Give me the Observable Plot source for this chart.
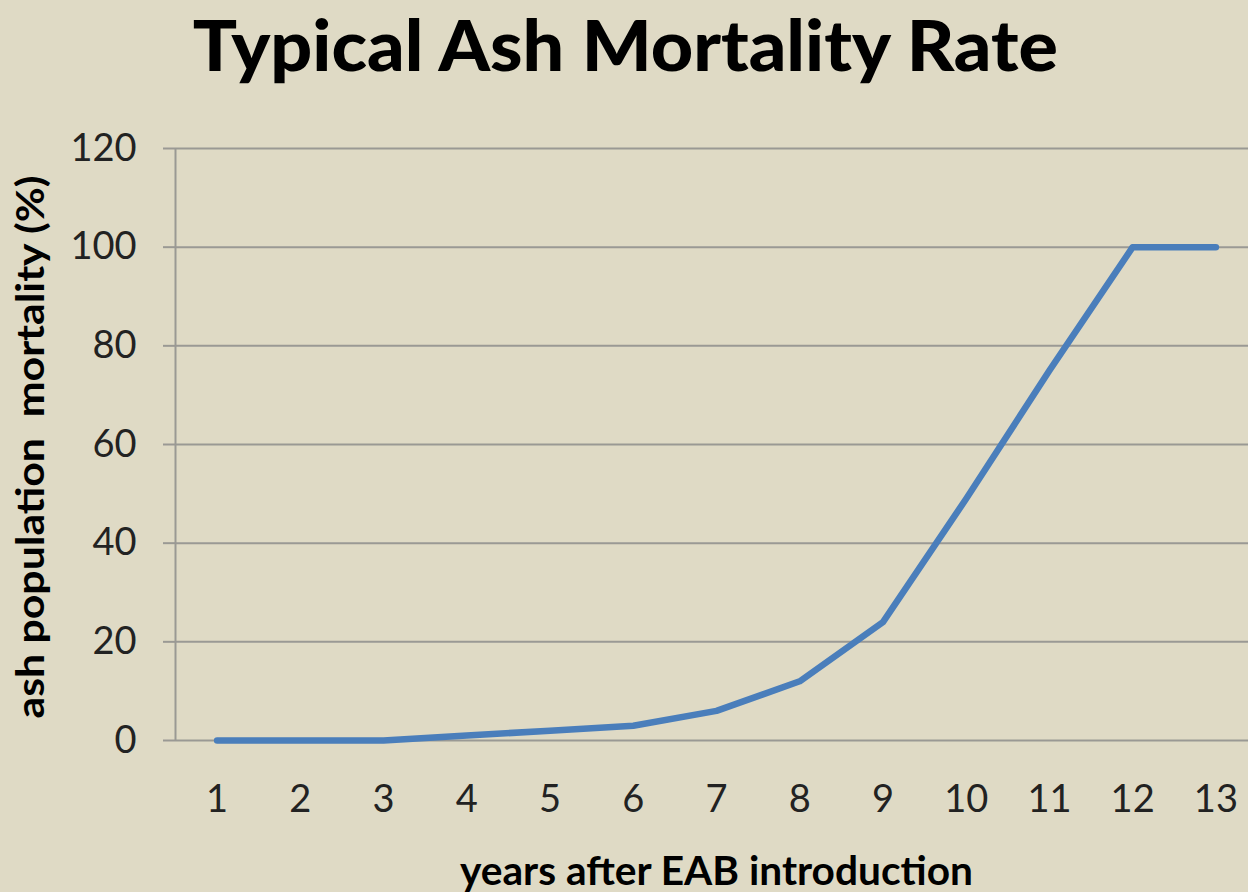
<!DOCTYPE html>
<html>
<head>
<meta charset="utf-8">
<script src="https://cdn.jsdelivr.net/npm/d3@7"></script>
<script src="https://cdn.jsdelivr.net/npm/@observablehq/plot@0.6"></script>
<style>
  html, body { margin: 0; padding: 0; background: #dfdac5; overflow: hidden; }
  #page { position: relative; width: 1248px; height: 892px; overflow: hidden; background: #dfdac5; font-family: Lato, "Open Sans", sans-serif; }
  #titlebox { position: relative; width: 1248px; height: 100px; }
  #title { position: absolute; left: 0; top: 0; white-space: pre; font-family: Lato, sans-serif; font-weight: 900; font-size: 71px; color: #000; line-height: 1.2; transform-origin: center center; }
  #chart svg { display: block; }
</style>
</head>
<body>
<div id="page">
  <div id="titlebox"><div id="title"><span id="titletext">Typical Ash Mortality Rate</span></div></div>
  <div id="chart"></div>
</div>
<script>
// ---- data ----
const titleText = "Typical Ash Mortality Rate";
const xLabel = "years after EAB introduction";
const yLabel = "ash population  mortality (%)";
const years = [1, 2, 3, 4, 5, 6, 7, 8, 9, 10, 11, 12, 13];
const mortality = [0, 0, 0, 1, 2, 3, 6, 12, 24, 49, 75, 100, 100];
const yTicks = [0, 20, 40, 60, 80, 100, 120];

// ---- styles ----
const gridColor = "#9a9994";
const lineColor = "#4a7ebb";
const textColor = "#222222";

const table = years.map((y, i) => ({year: y, value: mortality[i]}));

const chart = Plot.plot({
  width: 1248,
  height: 792,
  marginTop: 48,
  marginBottom: 152,
  marginLeft: 175,
  marginRight: -9,
  style: {background: "transparent", fontFamily: "Lato, 'Open Sans', sans-serif", overflow: "visible"},
  x: {type: "linear", domain: [0.5, 13.5]},
  y: {type: "linear", domain: [0, 120]},
  marks: [
    Plot.gridY(yTicks, {stroke: gridColor, strokeOpacity: 1, strokeWidth: 2}),
    Plot.ruleX([0.5], {y1: 0, y2: 120, stroke: gridColor, strokeWidth: 2}),
    Plot.axisY(yTicks, {tickSize: 12, tickPadding: 27, stroke: gridColor, strokeWidth: 2, fill: textColor, fontSize: 38, label: null}),
    Plot.axisX(years, {tickSize: 0, tickPadding: 45, fill: textColor, fontSize: 38, label: null}),
    Plot.line(table, {x: "year", y: "value", stroke: lineColor, strokeWidth: 6.5, strokeLinejoin: "round", strokeLinecap: "round"}),
    Plot.text([yLabel], {frameAnchor: "left", textAnchor: "middle", rotate: -90, lineAnchor: "bottom", dx: -132, dy: 2.5, fontSize: 39, fontWeight: "bold", fill: "#000", className: "ylab"}),
    Plot.text([xLabel], {frameAnchor: "bottom", textAnchor: "middle", lineAnchor: "bottom", dy: 144, fontSize: 41, fontWeight: "bold", fill: "#000", className: "xlab"})
  ]
});
document.getElementById("chart").appendChild(chart);

// fit label widths (Calibri-like narrow proportions)
function fitText(sel, target) {
  const t = chart.querySelector(sel);
  if (!t) return;
  const w = t.getComputedTextLength();
  if (w > 0) { t.setAttribute("textLength", target); t.setAttribute("lengthAdjust", "spacingAndGlyphs"); }
}
fitText(".ylab text", 543);
fitText(".xlab text", 513);

// title placement (kept fully inside the page)
const title = document.getElementById("title");
const tt = document.getElementById("titletext");
const probe = document.createElement("span");
probe.style.display = "inline-block"; probe.style.width = "0"; probe.style.height = "0";
title.appendChild(probe);
const baseOff = probe.getBoundingClientRect().top - title.getBoundingClientRect().top;
const tw = tt.getBoundingClientRect().width;
const targetW = 865, centerX = 625.5;
const ttRect = tt.getBoundingClientRect();
const titleRect = title.getBoundingClientRect();
const ascentAbove = baseOff - (ttRect.top - titleRect.top);
const baseline = Math.max(66, ascentAbove + 1);
title.style.left = (centerX - tw / 2) + "px";
title.style.top = (baseline - baseOff) + "px";
title.style.transform = `scaleX(${targetW / tw})`;
</script>
</body>
</html>
